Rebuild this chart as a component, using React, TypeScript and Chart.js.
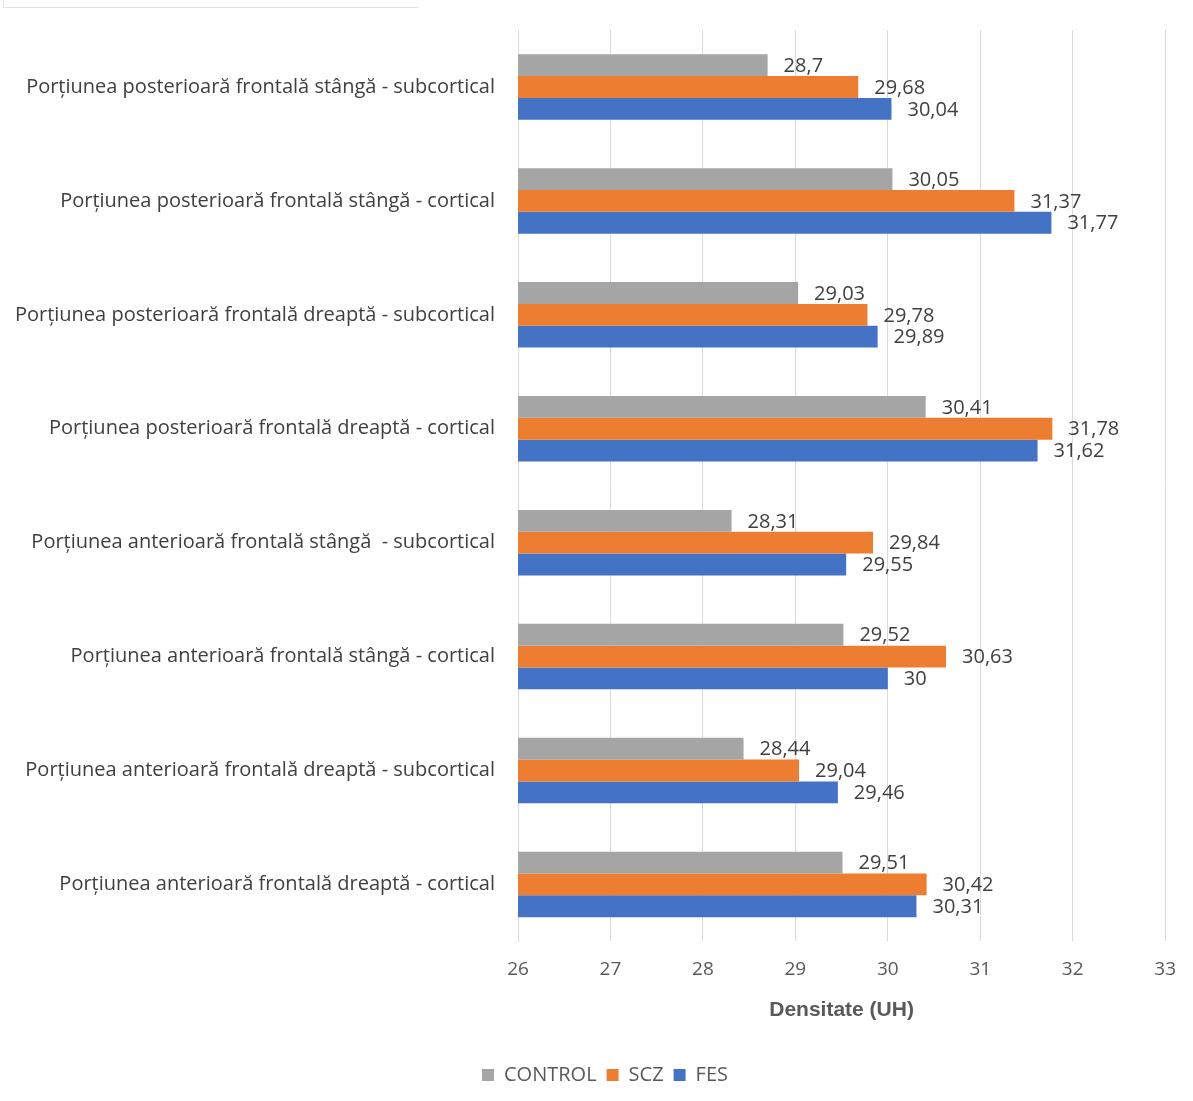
import React, { useEffect, useRef } from "react";
import { Chart, registerables } from "chart.js";

Chart.register(...registerables);

const categories = [
  "Porțiunea posterioară frontală stângă - subcortical",
  "Porțiunea posterioară frontală stângă - cortical",
  "Porțiunea posterioară frontală dreaptă - subcortical",
  "Porțiunea posterioară frontală dreaptă - cortical",
  "Porțiunea anterioară frontală stângă  - subcortical",
  "Porțiunea anterioară frontală stângă - cortical",
  "Porțiunea anterioară frontală dreaptă - subcortical",
  "Porțiunea anterioară frontală dreaptă - cortical",
];

const controlValues = [28.7, 30.05, 29.03, 30.41, 28.31, 29.52, 28.44, 29.51];
const sczValues = [29.68, 31.37, 29.78, 31.78, 29.84, 30.63, 29.04, 30.42];
const fesValues = [30.04, 31.77, 29.89, 31.62, 29.55, 30.0, 29.46, 30.31];

const seriesNames = ["CONTROL", "SCZ", "FES"];
const seriesColors = ["#a5a5a5", "#ed7d31", "#4472c4"];

const xMin = 26;
const xMax = 33;
const xTitle = "Densitate (UH)";

const FONT = "'Open Sans', Lato, 'Noto Sans', sans-serif";
const TEXT = "#595959";
const DARK = "#404040";

const fmt = (v: number) => String(v).replace(".", ",");

const valueLabels = {
  id: "valueLabels",
  afterDatasetsDraw(chart: any) {
    const ctx = chart.ctx;
    ctx.save();
    ctx.font = `20px ${FONT}`;
    ctx.fillStyle = DARK;
    ctx.textAlign = "left";
    ctx.textBaseline = "middle";
    chart.data.datasets.forEach((ds: any, i: number) => {
      const meta = chart.getDatasetMeta(i);
      meta.data.forEach((bar: any, j: number) => {
        ctx.fillText(fmt(ds.data[j]), bar.x + 16, bar.y + 1);
      });
    });
    ctx.restore();
  },
};

const shiftLegend = {
  id: "shiftLegend",
  afterLayout(chart: any) {
    if (chart.legend) {
      chart.legend.left += 22;
      chart.legend.right += 22;
    }
  },
};

export default function App() {
  const ref = useRef<HTMLCanvasElement>(null);

  useEffect(() => {
    if (!ref.current) return;
    const datasets = [controlValues, sczValues, fesValues].map((d, i) => ({
      label: seriesNames[i],
      data: d,
      backgroundColor: seriesColors[i],
      borderWidth: 0,
      barPercentage: 1,
      categoryPercentage: 0.575,
    }));
    const chart = new Chart(ref.current, {
      type: "bar",
      data: { labels: categories, datasets },
      plugins: [valueLabels, shiftLegend],
      options: {
        indexAxis: "y",
        animation: false,
        responsive: false,
        maintainAspectRatio: false,
        layout: { padding: { left: 0, right: 27, top: 30, bottom: 6 } },
        scales: {
          x: {
            min: xMin,
            max: xMax,
            ticks: {
              stepSize: 1,
              padding: 17,
              color: TEXT,
              font: { family: FONT, size: 19 },
            },
            grid: { color: "#d9d9d9", drawTicks: false, lineWidth: 1 },
            border: { display: false },
            title: {
              display: true,
              text: xTitle,
              color: TEXT,
              font: { family: "'Liberation Sans', Arial, sans-serif", size: 21, weight: "bold" },
              padding: { top: 0, bottom: 32 },
            },
            afterFit(scale: any) {
              scale.height = 113.6;
            },
          },
          y: {
            ticks: {
              padding: 23,
              color: DARK,
              font: { family: FONT, size: 20 },
              autoSkip: false,
            },
            grid: { display: false, drawTicks: false },
            border: { display: true, color: "#d9d9d9", width: 1 },
            afterFit(scale: any) {
              scale.width = 518;
              scale.paddingTop = 0;
              scale.paddingBottom = 0;
            },
          },
        },
        plugins: {
          legend: {
            position: "bottom",
            labels: {
              boxWidth: 12,
              boxHeight: 12,
              color: TEXT,
              font: { family: FONT, size: 20 },
              padding: 10,
            },
          },
          tooltip: { enabled: false },
        },
      },
    });
    return () => chart.destroy();
  }, []);

  return (
    <div style={{ position: "absolute", left: 0, top: 0, width: 1193, height: 1101, background: "#fff" }}>
      <div
        style={{
          position: "absolute",
          left: 3,
          top: 0,
          width: 414,
          height: 7,
          borderLeft: "1px solid #e3e3e3",
          borderBottom: "1px solid #e3e3e3",
        }}
      />
      <canvas ref={ref} width={1193} height={1101} style={{ position: "absolute", left: 0, top: 0 }} />
    </div>
  );
}
